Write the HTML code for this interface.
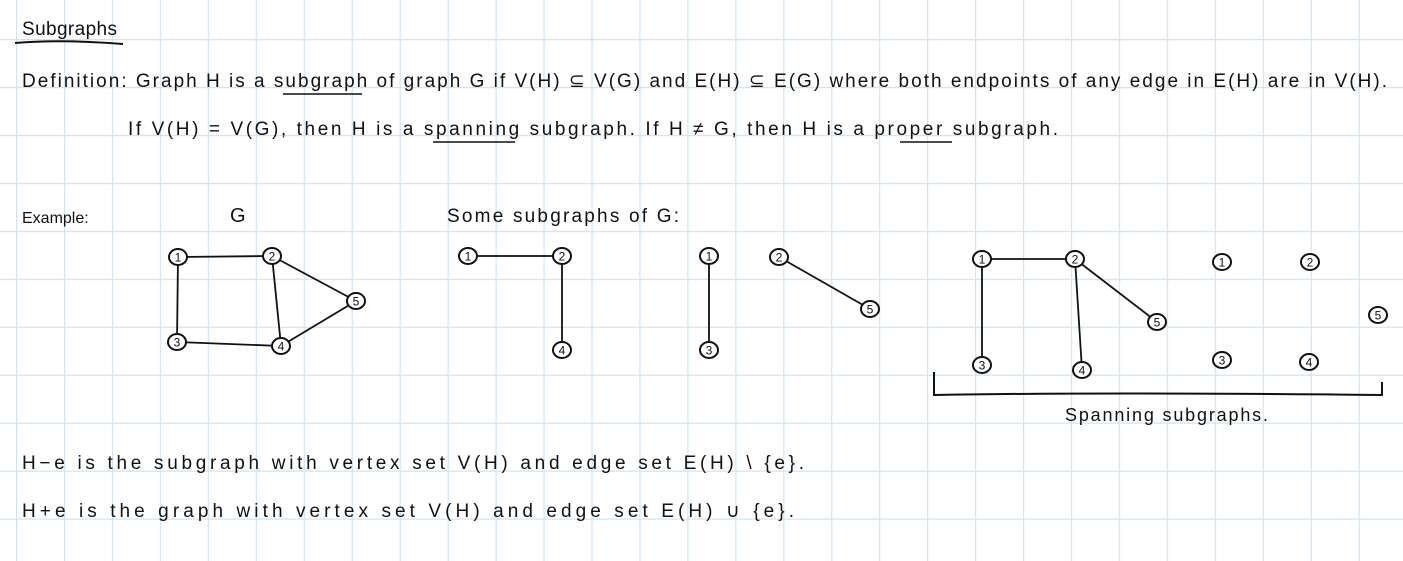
<!DOCTYPE html>
<html><head><meta charset="utf-8"><style>
body{margin:0;background:#fff}
svg{display:block}
text{font-family:"Liberation Sans",sans-serif;fill:#111}
</style></head><body>
<svg width="1403" height="561" viewBox="0 0 1403 561">
<defs>
<pattern id="grid" x="16" y="39" width="47.95" height="47.95" patternUnits="userSpaceOnUse">
<path d="M0 0V47.95M0 0H47.95" stroke="#cbe5f8" stroke-width="2.4" fill="none"/>
</pattern>
</defs>
<rect width="1403" height="561" fill="url(#grid)"/>
<g>
<text x="22" y="35" font-size="19" textLength="95">Subgraphs</text>
<path d="M15 43 Q60 39 123 44" stroke="#111" stroke-width="2" fill="none"/>
</g>
<text x="22" y="87" font-size="19" textLength="1365">Definition:  Graph H  is a subgraph of graph G  if V(H) ⊆ V(G)  and  E(H) ⊆ E(G)  where both endpoints of any edge in E(H) are in V(H).</text>
<path d="M283 94 H362" stroke="#111" stroke-width="1.5"/>
<text x="128" y="135" font-size="19" textLength="930">If V(H) = V(G),  then H is a  spanning  subgraph.  If  H ≠ G,  then H is a  proper subgraph.</text>
<path d="M433 142 H515 M900 142 H952" stroke="#111" stroke-width="1.5"/>
<text x="22" y="223" font-size="16">Example:</text>
<text x="230" y="222" font-size="20">G</text>
<text x="447" y="222" font-size="19" textLength="232">Some subgraphs of G:</text>
<g id="graphs" stroke="#111" stroke-width="1.8" fill="none"></g>
<g id="nodes"></g>
<path d="M934 372 V395 Q1100 392 1382 395 V382" stroke="#111" stroke-width="2" fill="none"/>
<text x="1065" y="421" font-size="18" textLength="203">Spanning subgraphs.</text>
<text x="22" y="469" font-size="19" textLength="782">H−e   is the subgraph with vertex set V(H) and edge set E(H) \ {e}.</text>
<text x="22" y="517" font-size="19" textLength="772">H+e   is the graph with vertex set V(H) and edge set E(H) ∪ {e}.</text>
</svg>
<script>
const graphs=[
 {name:'graph-g',nodes:{1:[178,257],2:[272,256],3:[177,342],4:[281,346],5:[356,301]},edges:[[1,2],[1,3],[2,4],[3,4],[2,5],[4,5]]},
 {name:'subgraph-a',nodes:{1:[468,256],2:[562,256],4:[562,350]},edges:[[1,2],[2,4]]},
 {name:'subgraph-b',nodes:{1:[709,256],3:[709,350]},edges:[[1,3]]},
 {name:'subgraph-c',nodes:{2:[779,257],5:[870,309]},edges:[[2,5]]},
 {name:'spanning-a',nodes:{1:[982,259],2:[1075,259],3:[982,365],4:[1082,370],5:[1157,322]},edges:[[1,2],[1,3],[2,4],[2,5]]},
 {name:'spanning-b',nodes:{1:[1222,262],2:[1310,262],3:[1222,360],4:[1309,362],5:[1378,315]},edges:[]}
];
const NS='http://www.w3.org/2000/svg';
const eg=document.getElementById('graphs'),ng=document.getElementById('nodes');
graphs.forEach(g=>{
 g.edges.forEach(([a,b])=>{
  const l=document.createElementNS(NS,'line');
  const p=g.nodes[a],q=g.nodes[b];
  l.setAttribute('x1',p[0]);l.setAttribute('y1',p[1]);l.setAttribute('x2',q[0]);l.setAttribute('y2',q[1]);
  
  
  eg.appendChild(l);
 });
 Object.keys(g.nodes).forEach(k=>{
  const [x,y]=g.nodes[k];
  const grp=document.createElementNS(NS,'g');
  
  
  const c=document.createElementNS(NS,'ellipse');
  c.setAttribute('cx',x);c.setAttribute('cy',y);c.setAttribute('rx',9);c.setAttribute('ry',8);
  c.setAttribute('fill','#fff');c.setAttribute('stroke','#111');c.setAttribute('stroke-width','2');
  const t=document.createElementNS(NS,'text');
  t.setAttribute('x',x);t.setAttribute('y',y+4.5);t.setAttribute('font-size','12');t.setAttribute('text-anchor','middle');
  t.textContent=k;
  grp.appendChild(c);grp.appendChild(t);ng.appendChild(grp);
 });
});
</script>
</body></html>
